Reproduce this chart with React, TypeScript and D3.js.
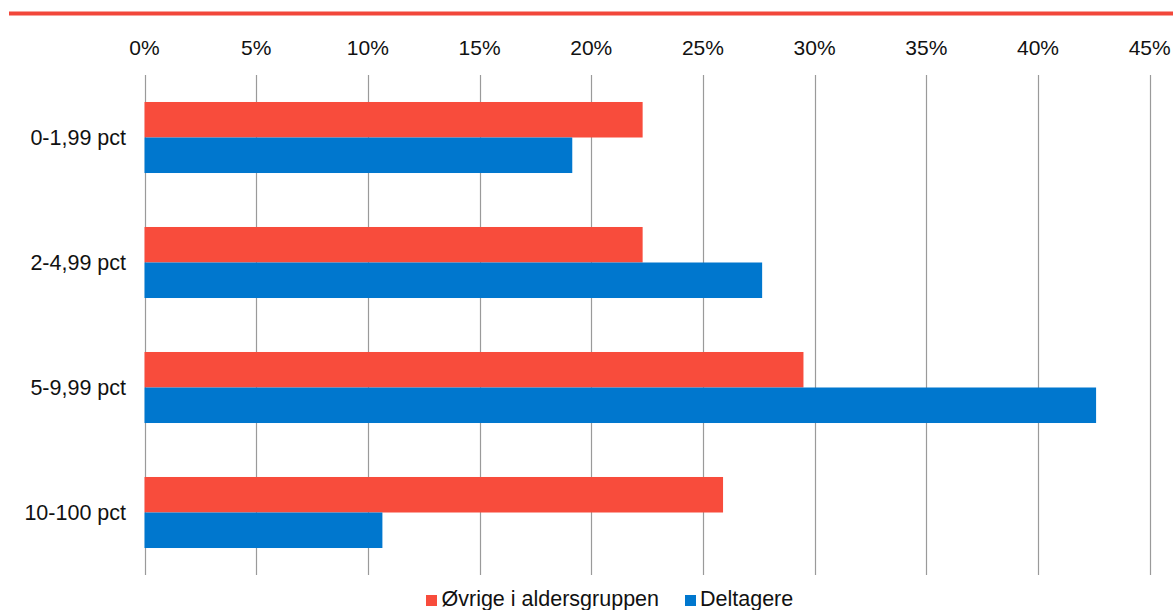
import React from "react";
import * as d3 from "d3";

const categories = ["0-1,99 pct", "2-4,99 pct", "5-9,99 pct", "10-100 pct"];
const seriesNames = ["Øvrige i aldersgruppen", "Deltagere"];
const ovrige = [22.3, 22.3, 29.5, 25.9];
const deltagere = [19.15, 27.65, 42.6, 10.65];
const tickValues = [0, 5, 10, 15, 20, 25, 30, 35, 40, 45];

const RED = "#F84C3C";
const BLUE = "#0077CE";
const W = 1174;
const H = 610;

export default function App() {
  const x = d3.scaleLinear().domain([0, 45]).range([144.5, 1149.7]);
  const y = d3.scaleBand<string>().domain(categories).range([75, 575]).paddingInner(0).paddingOuter(0);
  const inner = d3.scaleBand<number>().domain([0, 1]).range([0, y.bandwidth()]).paddingInner(0).paddingOuter(0.76);
  const series = [ovrige, deltagere];
  const colors = [RED, BLUE];
  const font = "Liberation Sans, Arial, Helvetica, sans-serif";

  return (
    <svg width={W} height={H} style={{ position: "absolute", left: 0, top: 0, display: "block" }} fontFamily={font}>
      <rect x={0} y={0} width={W} height={H} fill="#fff" />
      <line x1={9} x2={1173} y1={13.5} y2={13.5} stroke="#F2473A" strokeWidth={4} />
      {tickValues.map((t) => (
        <g key={t}>
          <line x1={Math.round(x(t)) + 0.5} x2={Math.round(x(t)) + 0.5} y1={75} y2={575} stroke="#9a9a9a" strokeWidth={1.2} />
          <text x={x(t)} y={55} textAnchor="middle" fontSize={21} fill="#111">{t}%</text>
        </g>
      ))}
      {categories.map((c, i) => (
        <g key={c}>
          {series.map((s, k) => (
            <rect
              key={k}
              x={x(0)}
              y={(y(c) as number) + (inner(k) as number)}
              width={x(s[i]) - x(0)}
              height={inner.bandwidth()}
              fill={colors[k]}
            />
          ))}
          <text x={126} y={(y(c) as number) + y.bandwidth() / 2} textAnchor="end" dominantBaseline="central" fontSize={21.5} fill="#111">{c}</text>
        </g>
      ))}
      <g>
        <rect x={426} y={595} width={11} height={11} fill={RED} />
        <text x={441.5} y={606} fontSize={21.5} fill="#111">{seriesNames[0]}</text>
        <rect x={685} y={595} width={11} height={11} fill={BLUE} />
        <text x={700} y={606} fontSize={21.5} fill="#111">{seriesNames[1]}</text>
      </g>
    </svg>
  );
}
